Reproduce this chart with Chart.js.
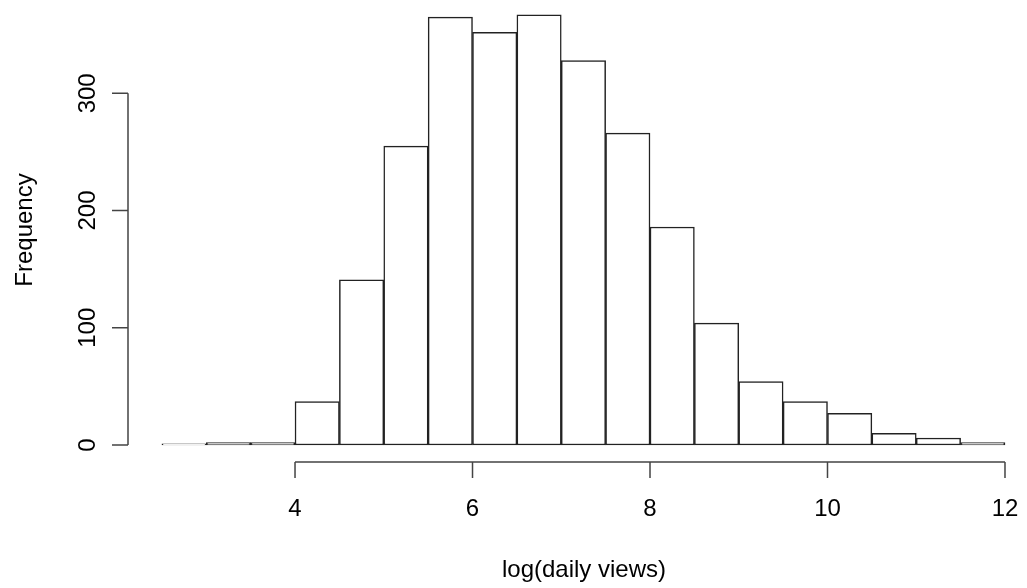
<!DOCTYPE html>
<html>
<head>
<meta charset="utf-8">
<script src="https://cdn.jsdelivr.net/npm/chart.js@4"></script>
<style>
html,body{margin:0;padding:0;background:#fff;}
canvas{display:block;}
</style>
</head>
<body>
<canvas id="c" width="1027" height="588"></canvas>
<script>
// Histogram of log(daily views): bin centers and counts
const binCenters = [2.75,3.25,3.75,4.25,4.75,5.25,5.75,6.25,6.75,7.25,7.75,8.25,8.75,9.25,9.75,10.25,10.75,11.25,11.75];
const counts     = [1,2,2,37,141,255,365,352,367,328,266,186,104,54,37,27,10,6,2];
const xTicks = [4,6,8,10,12];
const yTicks = [0,100,200,300];
const xTitle = 'log(daily views)';
const yTitle = 'Frequency';

const FONT = '24px "Liberation Sans", Arial, Helvetica, sans-serif';
const AXIS_COLOR = '#444';

const rAxes = {
  id: 'rAxes',
  afterDraw(chart) {
    const ctx = chart.ctx;
    const xs = chart.scales.x, ys = chart.scales.y;
    const area = chart.chartArea;
    ctx.save();
    ctx.strokeStyle = AXIS_COLOR;
    ctx.fillStyle = '#000';
    ctx.lineWidth = 1.5;
    ctx.font = FONT;
    const tick = 16;
    // x axis
    const xb = area.bottom;
    const x0 = xs.getPixelForValue(xTicks[0]);
    const x1 = xs.getPixelForValue(xTicks[xTicks.length-1]);
    ctx.beginPath();
    ctx.moveTo(x0, xb); ctx.lineTo(x1, xb);
    xTicks.forEach(v => { const p = xs.getPixelForValue(v); ctx.moveTo(p, xb); ctx.lineTo(p, xb + tick); });
    ctx.stroke();
    ctx.textAlign = 'center';
    ctx.textBaseline = 'alphabetic';
    xTicks.forEach(v => ctx.fillText(String(v), xs.getPixelForValue(v), 516));
    // y axis
    const yl = area.left;
    const y0 = ys.getPixelForValue(yTicks[0]);
    const y1 = ys.getPixelForValue(yTicks[yTicks.length-1]);
    ctx.beginPath();
    ctx.moveTo(yl, y0); ctx.lineTo(yl, y1);
    yTicks.forEach(v => { const p = ys.getPixelForValue(v); ctx.moveTo(yl, p); ctx.lineTo(yl - tick, p); });
    ctx.stroke();
    yTicks.forEach(v => {
      const p = ys.getPixelForValue(v);
      ctx.save();
      ctx.translate(95, p);
      ctx.rotate(-Math.PI/2);
      ctx.fillText(String(v), 0, 0);
      ctx.restore();
    });
    // titles
    ctx.fillText(xTitle, 584, 577);
    ctx.save();
    ctx.translate(32, 230);
    ctx.rotate(-Math.PI/2);
    ctx.fillText(yTitle, 0, 0);
    ctx.restore();
    ctx.restore();
  }
};

new Chart(document.getElementById('c'), {
  type: 'bar',
  data: {
    datasets: [{
      data: binCenters.map((x, i) => ({x: x, y: counts[i]})),
      backgroundColor: '#ffffff',
      borderColor: '#222',
      borderWidth: 1.5,
      borderSkipped: false,
      barPercentage: 1,
      categoryPercentage: 1
    }]
  },
  options: {
    responsive: false,
    animation: false,
    devicePixelRatio: 1,
    layout: { padding: { left: 128, right: 0, top: 0, bottom: 126 } },
    plugins: { legend: { display: false }, tooltip: { enabled: false } },
    scales: {
      x: { type: 'linear', min: 2.118, max: 12.248, offset: false, display: false },
      y: { type: 'linear', min: -14.5, max: 379.6, display: false }
    }
  },
  plugins: [rAxes]
});
</script>
</body>
</html>
